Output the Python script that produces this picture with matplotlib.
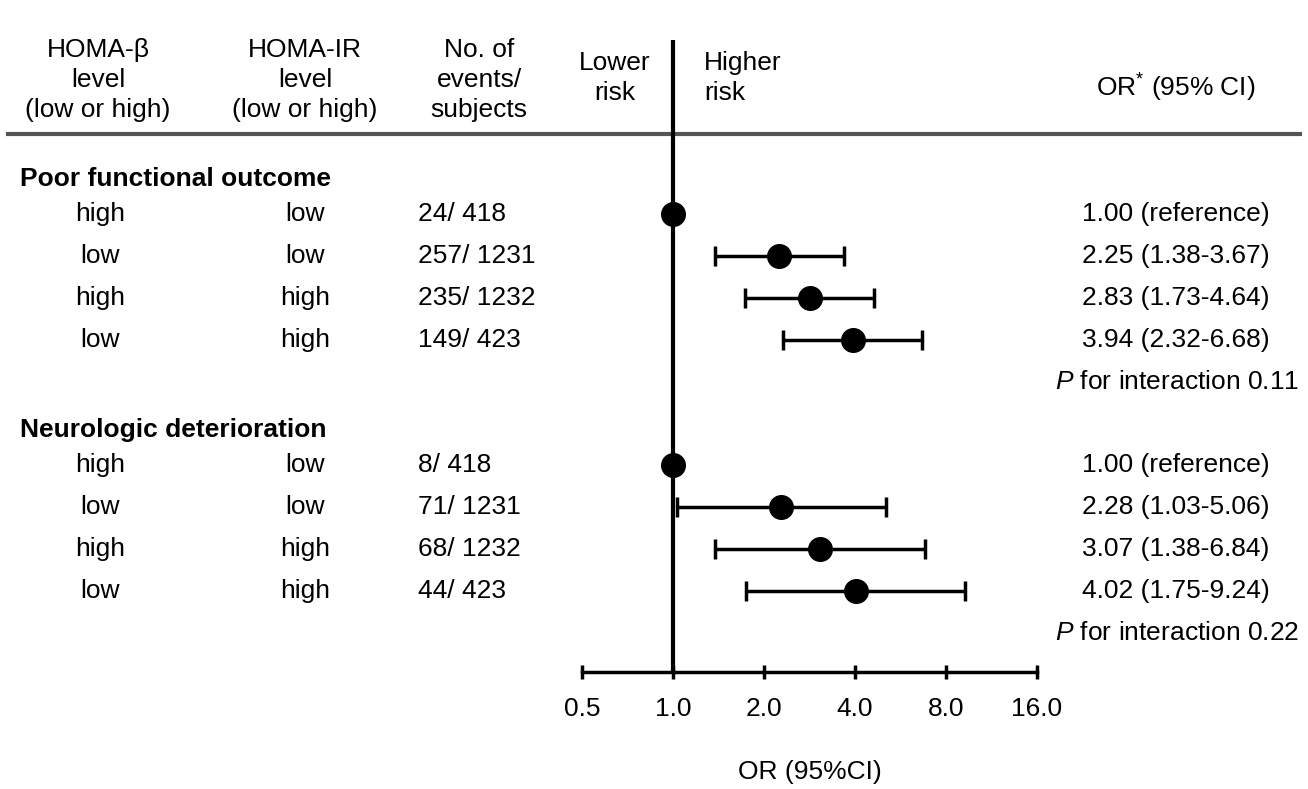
import numpy as np
import matplotlib
matplotlib.use("Agg")
from matplotlib import pyplot as plt
from matplotlib.transforms import blended_transform_factory

plt.rcParams["font.family"] = ["Liberation Sans", "DejaVu Sans"]
plt.rcParams["mathtext.fontset"] = "custom"
plt.rcParams["mathtext.rm"] = "Liberation Sans"
plt.rcParams["mathtext.it"] = "Liberation Sans:italic"

# data
sections = ["Poor functional outcome", "Neurologic deterioration"]
beta_level = ["high", "low", "high", "low"]
ir_level = ["low", "low", "high", "high"]
events_poor = ["24/ 418", "257/ 1231", "235/ 1232", "149/ 423"]
events_neuro = ["8/ 418", "71/ 1231", "68/ 1232", "44/ 423"]
or_poor = [1.00, 2.25, 2.83, 3.94]
lo_poor = [1.00, 1.38, 1.73, 2.32]
hi_poor = [1.00, 3.67, 4.64, 6.68]
or_neuro = [1.00, 2.28, 3.07, 4.02]
lo_neuro = [1.00, 1.03, 1.38, 1.75]
hi_neuro = [1.00, 5.06, 6.84, 9.24]
p_interaction = ["0.11", "0.22"]
xticks = [0.5, 1, 2, 4, 8, 16]
xticklabels = ["0.5", "1.0", "2.0", "4.0", "8.0", "16.0"]

W, H = 1308, 789
fs = 19
fig = plt.figure(figsize=(W / 100, H / 100), dpi=100)
ax = fig.add_axes([582 / W, (H - 672) / H, (1037 - 582) / W, (672 - 40) / H])
ax.set_xscale("log")
ax.set_xlim(0.5, 16)
ax.set_ylim(11.93, -3.153)
for s in ["top", "right", "left"]:
    ax.spines[s].set_visible(False)
ax.spines["bottom"].set_linewidth(2.5)
ax.set_yticks([])
ax.set_xticks(xticks)
ax.set_xticklabels(xticklabels, fontsize=fs)
ax.minorticks_off()
ax.tick_params(axis="x", direction="inout", length=10, width=2.5, pad=13)
ax.set_xlabel("OR (95%CI)", fontsize=fs, labelpad=28)

ax.axvline(1, color="black", lw=3, zorder=1)

tr = blended_transform_factory(fig.transFigure, ax.transData)

blocks = [
    (0, events_poor, or_poor, lo_poor, hi_poor),
    (6, events_neuro, or_neuro, lo_neuro, hi_neuro),
]
for k, (start, ev, est, lo, hi) in enumerate(blocks):
    rows = np.arange(start + 1, start + 5)
    ax.text(20 / W, start + 0.16, sections[k], transform=tr,
            fontsize=fs, fontweight="bold", ha="left", va="center")
    for i, r in enumerate(rows):
        ax.text(100 / W, r, beta_level[i], transform=tr, fontsize=fs, ha="center", va="center")
        ax.text(305 / W, r, ir_level[i], transform=tr, fontsize=fs, ha="center", va="center")
        ax.text(418 / W, r, ev[i], transform=tr, fontsize=fs, ha="left", va="center")
        if i == 0:
            label = "%.2f (reference)" % est[i]
        else:
            label = "%.2f (%.2f-%.2f)" % (est[i], lo[i], hi[i])
            ax.errorbar(est[i], r, xerr=[[est[i] - lo[i]], [hi[i] - est[i]]], fmt="none",
                        ecolor="black", elinewidth=2.5, capsize=7, capthick=2.5, zorder=2)
        ax.plot(est[i], r, "o", color="black", ms=17, zorder=3)
        ax.text(1176 / W, r, label, transform=tr, fontsize=fs, ha="center", va="center")
    ax.text(1177 / W, start + 5, "$\\mathit{P}$ for interaction " + p_interaction[k],
            transform=tr, fontsize=fs, ha="center", va="center")

# header
hdr = [(98, "HOMA-β\nlevel\n(low or high)"), (305, "HOMA-IR\nlevel\n(low or high)"),
       (479, "No. of\nevents/\nsubjects")]
for x, t in hdr:
    fig.text(x / W, 1 - 80 / H, t, fontsize=fs, ha="center", va="center", linespacing=1.3)
fig.text(615 / W, 1 - 78 / H, "Lower\nrisk", fontsize=fs, ha="center", va="center", linespacing=1.3)
fig.text(704 / W, 1 - 78 / H, "Higher\nrisk", fontsize=fs, ha="left", va="center", linespacing=1.3)
fig.text(1176 / W, 1 - 88 / H, "OR$^{*}$ (95% CI)", fontsize=fs, ha="center", va="center")
ax.plot([8 / W, 1300 / W], [-0.909, -0.909], transform=tr, color="#555555", lw=3,
        clip_on=False, zorder=0)

fig.savefig("out.png", dpi=100)
